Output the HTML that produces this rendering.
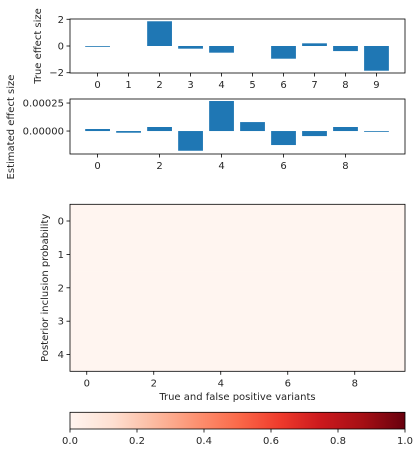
<!DOCTYPE html>
<html><head><meta charset="utf-8"><style>
body{margin:0;background:#fff;}
svg{display:block;font-family:"DejaVu Sans","Liberation Sans",sans-serif;font-size:10px;fill:#262626;}
</style></head><body>
<svg id="c" width="419" height="453" xmlns="http://www.w3.org/2000/svg"></svg>
<script>
const trueCats=[0,1,2,3,4,5,6,7,8,9];
const trueVals=[-0.02,0,1.85,-0.2,-0.5,0,-0.95,0.2,-0.38,-1.85];
const trueYTicks=[2,0,-2];
const trueXTicks=[0,1,2,3,4,5,6,7,8,9];
const estVals=[0.000018,-0.000015,0.000036,-0.000176,0.000268,0.00008,-0.000125,-0.000045,0.000036,-0.000003];
const estYTicks=[0.00025,0];
const estYTickLabels=["0.00025","0.00000"];
const estXTicks=[0,2,4,6,8];
const pipRows=[0,1,2,3,4];
const pipVals=[
[0,0,0,0,0,0,0,0,0,0],[0,0,0,0,0,0,0,0,0,0],[0,0,0,0,0,0,0,0,0,0],[0,0,0,0,0,0,0,0,0,0],[0,0,0,0,0,0,0,0,0,0]];
const heatXTicks=[0,2,4,6,8];
const cbTicks=[0,0.2,0.4,0.6,0.8,1.0];
const cbTickLabels=["0.0","0.2","0.4","0.6","0.8","1.0"];

const NS="http://www.w3.org/2000/svg";
const svg=document.getElementById('c');
function mk(tag,attrs,parent){const e=document.createElementNS(NS,tag);for(const k in attrs)e.setAttribute(k,attrs[k]);(parent||svg).appendChild(e);return e;}
function txt(s,attrs){const e=mk('text',attrs);e.textContent=s;return e;}
const L=70,R=405;
function lin(d0,d1,r0,r1){return v=>r0+(v-d0)/(d1-d0)*(r1-r0);}
const reds=[[255,245,240],[254,224,210],[252,187,161],[252,146,114],[251,106,74],[239,59,44],[203,24,29],[165,15,21],[103,0,13]];
function redsColor(v){const t=Math.max(0,Math.min(1,v))*(reds.length-1);const i=Math.min(Math.floor(t),reds.length-2);const f=t-i;const c=reds[i].map((a,k)=>Math.round(a+(reds[i+1][k]-a)*f));return `rgb(${c[0]},${c[1]},${c[2]})`;}
function barH(a,b,v){return v===0?0:Math.max(Math.abs(a-b),0.8);}

// Panel 1
{const T=19,B=73;const x=lin(-0.89,9.92,L,R);const y=lin(2.02,-2.02,T,B);const w=x(0.8)-x(0);
trueCats.forEach((c,i)=>{const v=trueVals[i];const r=mk('rect',{x:x(c)-w/2,y:Math.min(y(v),y(0)),width:w,height:barH(y(v),y(0),v),fill:'#1f77b4'});

});
const f=mk('rect',{x:L,y:T,width:R-L,height:B-T,fill:'none',stroke:'#000','stroke-width':0.8});

trueYTicks.forEach(t=>{mk('line',{x1:L-3.5,x2:L,y1:y(t),y2:y(t),stroke:'#000','stroke-width':0.8});const e=txt(t<0?'−'+(-t):''+t,{x:L-6,y:y(t)+3.5,'text-anchor':'end'});});
trueXTicks.forEach(t=>{mk('line',{x1:x(t),x2:x(t),y1:B,y2:B+3.5,stroke:'#000','stroke-width':0.8});const e=txt(''+t,{x:x(t),y:B+15,'text-anchor':'middle'});});
const yl=txt('True effect size',{x:0,y:0,transform:`translate(41,${(T+B)/2}) rotate(-90)`,'text-anchor':'middle'});}

// Panel 2
{const T=99,B=154;const x=lin(-0.89,9.92,L,R);const y=lin(0.000286,-0.000205,T,B);const w=x(0.8)-x(0);
trueCats.forEach((c,i)=>{const v=estVals[i];const r=mk('rect',{x:x(c)-w/2,y:Math.min(y(v),y(0)),width:w,height:barH(y(v),y(0),v),fill:'#1f77b4'});

});
const f=mk('rect',{x:L,y:T,width:R-L,height:B-T,fill:'none',stroke:'#000','stroke-width':0.8});

estYTicks.forEach((t,i)=>{mk('line',{x1:L-3.5,x2:L,y1:y(t),y2:y(t),stroke:'#000','stroke-width':0.8});const e=txt(estYTickLabels[i],{x:L-6,y:y(t)+3.5,'text-anchor':'end'});});
estXTicks.forEach(t=>{mk('line',{x1:x(t),x2:x(t),y1:B,y2:B+3.5,stroke:'#000','stroke-width':0.8});const e=txt(''+t,{x:x(t),y:B+15,'text-anchor':'middle'});});
const yl=txt('Estimated effect size',{x:0,y:0,transform:`translate(14,127) rotate(-90)`,'text-anchor':'middle'});}

// Heatmap
{const T=204.3,B=371.3;const x=lin(-0.5,9.5,L,R);const y=lin(-0.5,4.5,T,B);
pipRows.forEach((r,ri)=>pipVals[ri].forEach((v,ci)=>{const c=mk('rect',{x:x(ci-0.5),y:y(r-0.5),width:x(1)-x(0)+0.3,height:y(1)-y(0)+0.3,fill:redsColor(v)});

}));
const f=mk('rect',{x:L,y:T,width:R-L,height:B-T,fill:'none',stroke:'#000','stroke-width':0.8});

pipRows.forEach(t=>{mk('line',{x1:L-3.5,x2:L,y1:y(t),y2:y(t),stroke:'#000','stroke-width':0.8});const e=txt(''+t,{x:L-6,y:y(t)+3.5,'text-anchor':'end'});});
heatXTicks.forEach(t=>{mk('line',{x1:x(t),x2:x(t),y1:B,y2:B+3.5,stroke:'#000','stroke-width':0.8});const e=txt(''+t,{x:x(t),y:B+15,'text-anchor':'middle'});});
const yl=txt('Posterior inclusion probability',{x:0,y:0,transform:`translate(48,${(T+B)/2}) rotate(-90)`,'text-anchor':'middle'});
const xl=txt('True and false positive variants',{x:(L+R)/2,y:400,'text-anchor':'middle'});}

// Colorbar
{const T=412.3,B=429;const x=lin(0,1,L,R);
const defs=mk('defs',{});const g=mk('linearGradient',{id:'rg',x1:0,x2:1,y1:0,y2:0},defs);
reds.forEach((c,i)=>mk('stop',{offset:i/(reds.length-1),'stop-color':`rgb(${c})`},g));
const cb=mk('rect',{x:L,y:T,width:R-L,height:B-T,fill:'url(#rg)',stroke:'#000','stroke-width':0.8});

cbTicks.forEach((t,i)=>{mk('line',{x1:x(t),x2:x(t),y1:B,y2:B+3.5,stroke:'#000','stroke-width':0.8});const e=txt(cbTickLabels[i],{x:x(t),y:B+15,'text-anchor':'middle'});});}
</script>
</body></html>
